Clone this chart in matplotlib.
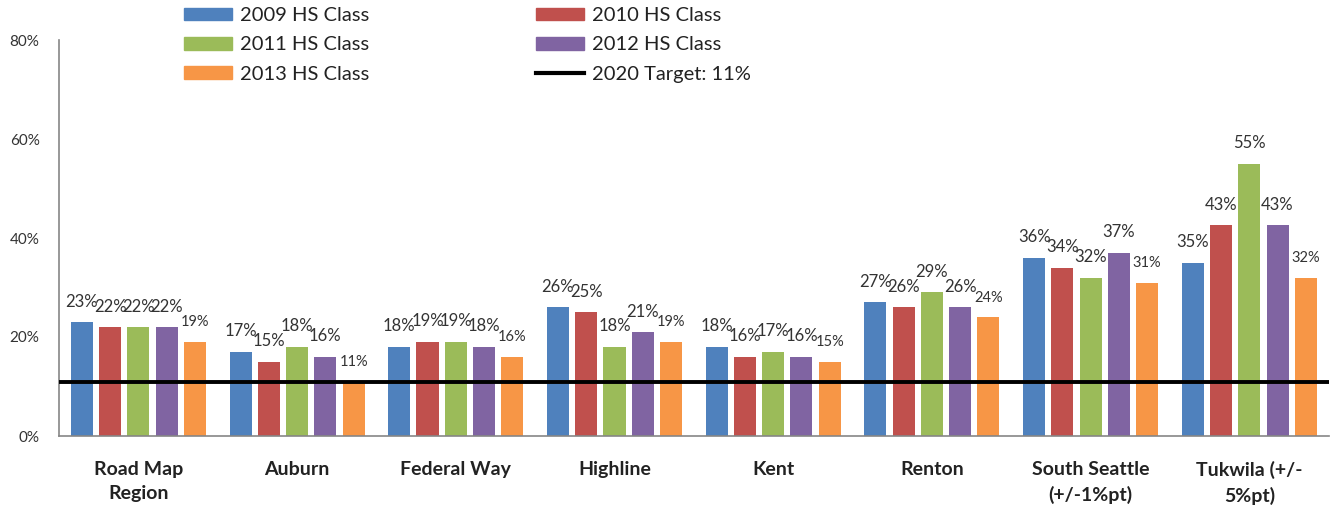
import matplotlib.pyplot as plt
import numpy as np
from matplotlib.patches import Patch
from matplotlib.lines import Line2D

plt.rcParams['font.family'] = ['Lato', 'DejaVu Sans']

districts = ['Road Map\nRegion', 'Auburn', 'Federal Way', 'Highline', 'Kent',
             'Renton', 'South Seattle\n(+/-1%pt)', 'Tukwila (+/-\n5%pt)']
classes = ['2009 HS Class', '2010 HS Class', '2011 HS Class', '2012 HS Class', '2013 HS Class']
colors = ['#4F81BD', '#C0504D', '#9BBB59', '#8064A2', '#F79646']

hs2009 = [23, 17, 18, 26, 18, 27, 36, 35]
hs2010 = [22, 15, 19, 25, 16, 26, 34, 42.6]
hs2011 = [22, 18, 19, 18, 17, 29, 32, 55]
hs2012 = [22, 16, 18, 21, 16, 26, 37, 42.6]
hs2013 = [19, 11, 16, 19, 15, 24, 31, 32]
series = [hs2009, hs2010, hs2011, hs2012, hs2013]
target = 11

fig = plt.figure(figsize=(13.3, 5.11), dpi=100)
ax = fig.add_axes([59 / 1330, 1 - 436 / 511, 1 - 59 / 1330 - 0.001, 396 / 511])

x = np.arange(len(districts))
step = 0.178
bw = 0.139
for i, (vals, c) in enumerate(zip(series, colors)):
    pos = x + (i - 2) * step
    bars = ax.bar(pos, vals, width=bw, color=c, zorder=2)
    small = i == 4
    for b, v in zip(bars, vals):
        ax.annotate(f'{v:.0f}%', (b.get_x() + b.get_width() / 2, v),
                    xytext=(0, 9), textcoords='offset points',
                    ha='center', va='bottom', color='#333333',
                    fontsize=10.5 if small else 12)

ax.axhline(target, color='black', lw=2.8, zorder=3)

ax.set_xlim(-0.5, len(districts) - 0.5)
ax.set_ylim(0, 80)
ax.set_yticks(range(0, 81, 20))
ax.set_yticklabels([f'{t}%' for t in range(0, 81, 20)], fontsize=11, color='#333333')
ax.set_xticks(x)
ax.set_xticklabels(districts, fontsize=14, fontweight='bold', color='#222222',
                   linespacing=1.5)
ax.tick_params(axis='y', length=0, pad=14)
ax.tick_params(axis='x', length=0, pad=18)
for s in ['top', 'right']:
    ax.spines[s].set_visible(False)
for s in ['left', 'bottom']:
    ax.spines[s].set_color('#868686')
    ax.spines[s].set_linewidth(1.2)

handles = [Patch(color=colors[0]), Patch(color=colors[2]), Patch(color=colors[4]),
           Patch(color=colors[1]), Patch(color=colors[3]),
           Line2D([], [], color='black', lw=3)]
labels = [classes[0], classes[2], classes[4], classes[1], classes[3], '2020 Target: 11%']
fig.legend(handles, labels, ncol=2, loc='upper left', frameon=False,
           bbox_to_anchor=(184 / 1330, 1 - 7 / 511), borderaxespad=0, borderpad=0,
           fontsize=14.5, handlelength=2.4, handleheight=0.6, handletextpad=0.4,
           labelspacing=0.62, columnspacing=8.25, labelcolor='#222222')

fig.savefig('out.png', dpi=100)
